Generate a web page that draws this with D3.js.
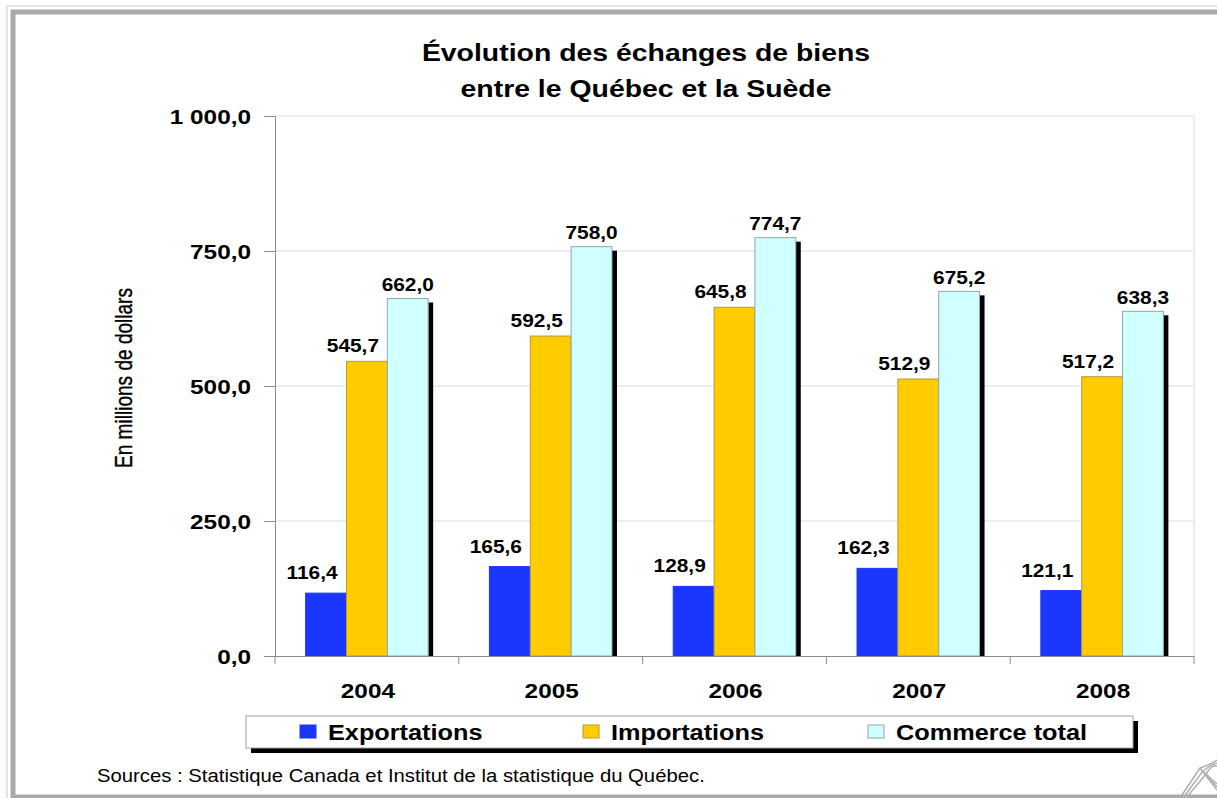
<!DOCTYPE html>
<html>
<head>
<meta charset="utf-8">
<script src="https://cdn.jsdelivr.net/npm/d3@7"></script>
<style>
  body { margin: 0; background: #fff; }
  svg { display: block; font-family: Arial, "Liberation Sans", Helvetica, sans-serif; }
</style>
</head>
<body>
<svg id="chart" width="1217" height="798"></svg>
<script>
// data
var years = ["2004", "2005", "2006", "2007", "2008"]
var exportations = [116.4, 165.6, 128.9, 162.3, 121.1]
var importations = [545.7, 592.5, 645.8, 512.9, 517.2]
var commerceTotal = [662.0, 758.0, 774.7, 675.2, 638.3]
var seriesNames = ["Exportations", "Importations", "Commerce total"]
var seriesColors = ["#1a36ff", "#ffcc00", "#d0ffff"]
var seriesStrokes = ["#1a36ff", "#b39b3a", "#8fa9a9"]
var yTicks = [0, 250, 500, 750, 1000]

var series = [exportations, importations, commerceTotal]
// excel nudged the labels a bit, per series
var labelDx = [-14, -14, 0]
var labelDy = [-14, -9, -7.5]

var locale = d3.formatLocale({decimal: ",", thousands: " ", grouping: [3], currency: ["", ""]})
var fmt = locale.format(",.1f")

var SX = 1.16 // the original looks stretched sideways a bit

var svg = d3.select('#chart')

// frame
svg.append('rect').attr('x', 7).attr('y', 6).attr('width', 1240).attr('height', 800)
  .attr('fill', 'none').attr('stroke', '#e4e4e4').attr('stroke-width', 2)
svg.append('rect').attr('x', 13).attr('y', 12).attr('width', 1240).attr('height', 785)
  .attr('fill', 'none').attr('stroke', '#a9a9a9').attr('stroke-width', 5)

function txt(x, y, s, size, weight, anchor) {
  return svg.append('text')
    .attr('transform', 'translate(' + x + ',' + y + ') scale(' + SX + ',1)')
    .attr('font-size', size)
    .attr('font-weight', weight)
    .attr('text-anchor', anchor)
    .attr('fill', '#000')
    .text(s)
}

// title
txt(646, 61, "Évolution des échanges de biens", 24.5, 'bold', 'middle')
txt(646, 97, "entre le Québec et la Suède", 24.5, 'bold', 'middle')

var plotLeft = 275, plotRight = 1194, plotTop = 116, plotBottom = 656

var x = d3.scaleBand().domain(years).range([plotLeft, plotRight]).padding(0)
var xs = d3.scaleBand().domain(d3.range(3)).range([0, x.bandwidth()]).paddingInner(0).paddingOuter(0.75)
var y = d3.scaleLinear().domain([0, 1000]).range([plotBottom, plotTop])

// grid
svg.append('g').selectAll('line')
  .data(yTicks.filter(function(d){ return d > 0 }))
  .enter().append('line')
    .attr('x1', plotLeft).attr('x2', plotRight)
    .attr('y1', function(d){ return y(d) }).attr('y2', function(d){ return y(d) })
    .attr('stroke', '#dcdcdc').attr('stroke-width', 1)
svg.append('line').attr('x1', plotRight).attr('x2', plotRight).attr('y1', plotTop).attr('y2', plotBottom)
  .attr('stroke', '#dcdcdc')

// shadows first, then bars on top
var groups = svg.append('g')
years.forEach(function(yr, i) {
  series.forEach(function(s, k) {
    groups.append('rect')
      .attr('x', x(yr) + xs(k) + xs.bandwidth())
      .attr('y', y(s[i]) + 4)
      .attr('width', 5)
      .attr('height', plotBottom - y(s[i]) - 4)
      .attr('fill', '#000')
  })
})
years.forEach(function(yr, i) {
  series.forEach(function(s, k) {
    groups.append('rect')
      .attr('x', x(yr) + xs(k))
      .attr('y', y(s[i]))
      .attr('width', xs.bandwidth())
      .attr('height', plotBottom - y(s[i]))
      .attr('fill', seriesColors[k])
      .attr('stroke', seriesStrokes[k]).attr('stroke-width', 1)
  })
})

// value labels
years.forEach(function(yr, i) {
  series.forEach(function(s, k) {
    txt(x(yr) + xs(k) + xs.bandwidth() / 2 + labelDx[k], y(s[i]) + labelDy[k], fmt(s[i]), 18, 'bold', 'middle')
  })
})

// y axis
var yAxis = svg.append('g')
  .attr('transform', 'translate(' + plotLeft + ',0)')
  .call(d3.axisLeft(y).tickValues(yTicks).tickSize(11).tickFormat(function(d){ return '' }))
yAxis.select('.domain').attr('stroke', '#8c8c8c')
yAxis.selectAll('.tick line').attr('stroke', '#8c8c8c')
yTicks.forEach(function(d) {
  txt(251, y(d) + 7.5, fmt(d), 21, 'bold', 'end')
})

// x axis
var xAxis = svg.append('g')
  .attr('transform', 'translate(0,' + plotBottom + ')')
  .call(d3.axisBottom(x).tickSize(0).tickFormat(''))
xAxis.select('.domain').attr('stroke', '#8c8c8c')
var xb = years.map(function(yr){ return x(yr) }).concat([plotRight])
xAxis.selectAll('line.sep').data(xb).enter().append('line')
  .attr('class', 'sep')
  .attr('x1', function(d){ return d }).attr('x2', function(d){ return d })
  .attr('y1', 0).attr('y2', 8).attr('stroke', '#8c8c8c')
years.forEach(function(yr) {
  txt(x(yr) + x.bandwidth() / 2 + 1, 698, yr, 21, 'bold', 'middle')
})

// y title
svg.append('text')
  .attr('transform', 'translate(132,378) rotate(-90)')
  .attr('text-anchor', 'middle')
  .attr('font-family', '"Liberation Sans Narrow", "Arial Narrow", Arial, sans-serif')
  .attr('font-size', 24)
  .attr('stroke', '#000').attr('stroke-width', 0.4)
  .attr('textLength', 180).attr('lengthAdjust', 'spacingAndGlyphs')
  .text("En millions de dollars")

// legend
svg.append('rect').attr('x', 251).attr('y', 721).attr('width', 887).attr('height', 32).attr('fill', '#000')
svg.append('rect').attr('x', 246).attr('y', 716).attr('width', 887).attr('height', 32)
  .attr('fill', '#fff').attr('stroke', '#a0a0a0')
var legendX = [300, 583, 868]
seriesNames.forEach(function(n, k) {
  svg.append('rect').attr('x', legendX[k]).attr('y', 725).attr('width', 16).attr('height', 13)
    .attr('fill', seriesColors[k]).attr('stroke', seriesStrokes[k])
  txt(legendX[k] + 28, 740, n, 21.8, 'bold', 'start')
})

// source
txt(97, 782, "Sources : Statistique Canada et Institut de la statistique du Québec.", 17.5, 'normal', 'start')

// page curl in the corner
var curl = svg.append('g').attr('fill', 'none').attr('stroke', '#b0b0b0').attr('stroke-width', 1.5)
;[0, 3, 6].forEach(function(o) {
  curl.append('path').attr('d', 'M' + (1180 + o) + ',798 L' + (1200 + o) + ',' + (768 + o) + ' Q1212,764 1217,' + (760 + o))
  curl.append('path').attr('d', 'M' + (1200 + o) + ',' + (768 + o) + ' L1217,' + (790 - o))
})
</script>
</body>
</html>
